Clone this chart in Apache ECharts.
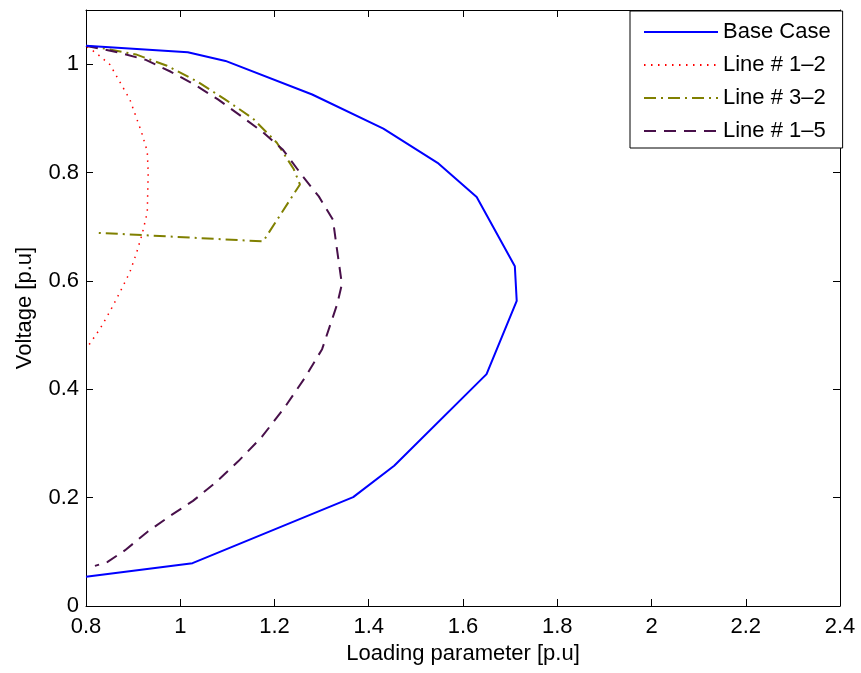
<!DOCTYPE html>
<html>
<head>
<meta charset="utf-8">
<title>PV curves</title>
<script src="https://cdn.jsdelivr.net/npm/echarts@6/dist/echarts.min.js"></script>
<style>
  html, body { margin: 0; padding: 0; background: #fff; }
  #chart { width: 861px; height: 673px; }
</style>
</head>
<body>
<div id="chart"></div>
<script>
// PV (nose) curves: bus voltage versus loading parameter, base case and three line outages
const seriesNames = ['Base Case', 'Line # 1\u20132', 'Line # 3\u20132', 'Line # 1\u20135'];

const baseCase = [
  [0.800, 0.054], [1.026, 0.079], [1.367, 0.201], [1.454, 0.259], [1.650, 0.428],
  [1.714, 0.563], [1.710, 0.627], [1.629, 0.755], [1.546, 0.818], [1.431, 0.881],
  [1.280, 0.944], [1.096, 1.006], [1.016, 1.022], [0.800, 1.034]
];

const line12 = [
  [0.802, 1.032], [0.821, 1.021], [0.851, 0.999], [0.893, 0.935], [0.918, 0.874],
  [0.930, 0.839], [0.932, 0.800], [0.930, 0.726], [0.919, 0.686], [0.907, 0.651],
  [0.893, 0.616], [0.872, 0.579], [0.851, 0.544], [0.830, 0.512], [0.804, 0.479]
];

const line32 = [
  [0.800, 1.034], [0.838, 1.029], [0.906, 1.018], [0.972, 0.997], [1.036, 0.968],
  [1.095, 0.935], [1.154, 0.900], [1.205, 0.855], [1.241, 0.806], [1.254, 0.778],
  [1.176, 0.673], [0.819, 0.689]
];

const line15 = [
  [0.800, 1.034], [0.872, 1.021], [0.927, 1.008], [0.980, 0.986], [1.031, 0.962],
  [1.080, 0.935], [1.131, 0.903], [1.176, 0.874], [1.218, 0.842], [1.260, 0.793],
  [1.294, 0.756], [1.324, 0.713], [1.332, 0.662], [1.343, 0.594], [1.333, 0.557],
  [1.301, 0.474], [1.265, 0.422], [1.222, 0.367], [1.173, 0.312], [1.123, 0.267],
  [1.074, 0.227], [1.027, 0.194], [0.978, 0.166], [0.932, 0.138], [0.883, 0.103],
  [0.845, 0.081], [0.819, 0.074]
];

const xTicks = { min: 0.8, max: 2.4, step: 0.2 };
const yTicks = { min: 0, max: 1.1, step: 0.2 };

const FONT = 'Liberation Sans, Arial, Helvetica, sans-serif';
const FONT_SIZE = 22;
const INK = '#000';

function fmt(v) {
  return String(Math.round(v * 10) / 10);
}

const baseAxis = {
  type: 'value',
  axisLine: { show: true, onZero: false, lineStyle: { color: INK, width: 1 } },
  axisTick: { show: true, inside: true, length: 7, lineStyle: { color: INK } },
  splitLine: { show: false }
};

const chart = echarts.init(document.getElementById('chart'), null, { renderer: 'canvas' });

chart.setOption({
  animation: false,
  backgroundColor: '#fff',
  grid: { left: 86, right: 21, top: 10, bottom: 67, containLabel: false },
  xAxis: [
    Object.assign({}, baseAxis, {
      position: 'bottom',
      min: xTicks.min, max: xTicks.max, interval: xTicks.step,
      name: 'Loading parameter [p.u]',
      nameLocation: 'middle', nameGap: 35,
      nameTextStyle: { fontFamily: FONT, fontSize: FONT_SIZE, color: INK },
      axisLabel: { fontFamily: FONT, fontSize: FONT_SIZE, color: INK, margin: 10, formatter: fmt }
    }),
    Object.assign({}, baseAxis, {
      position: 'top',
      min: xTicks.min, max: xTicks.max, interval: xTicks.step,
      axisLabel: { show: false }
    })
  ],
  yAxis: [
    Object.assign({}, baseAxis, {
      position: 'left',
      min: yTicks.min, max: yTicks.max, interval: yTicks.step,
      name: 'Voltage [p.u]',
      nameLocation: 'middle', nameGap: 50, nameRotate: 90,
      nameTextStyle: { fontFamily: FONT, fontSize: FONT_SIZE, color: INK },
      axisLabel: { fontFamily: FONT, fontSize: FONT_SIZE, color: INK, margin: 7, showMaxLabel: false, formatter: fmt }
    }),
    Object.assign({}, baseAxis, {
      position: 'right',
      min: yTicks.min, max: yTicks.max, interval: yTicks.step,
      axisLabel: { show: false }
    })
  ],
  legend: {
    orient: 'vertical',
    left: 630, top: 11,
    backgroundColor: '#fff',
    borderColor: INK, borderWidth: 1, borderRadius: 0,
    padding: [10, 12, 6, 13],
    itemWidth: 74, itemHeight: 14, itemGap: 11,
    itemStyle: { opacity: 0 },
    textStyle: { fontFamily: FONT, fontSize: FONT_SIZE, lineHeight: 22, color: INK },
    data: seriesNames
  },
  series: [
    {
      name: seriesNames[0], type: 'line', data: baseCase,
      symbol: 'none', smooth: false, z: 4,
      lineStyle: { color: '#0000ff', width: 2, type: 'solid' },
      itemStyle: { color: '#0000ff' }
    },
    {
      name: seriesNames[1], type: 'line', data: line12,
      symbol: 'none', smooth: false, z: 3,
      lineStyle: { color: '#ff0000', width: 1.5, type: [1.5, 5.5], cap: 'butt' },
      itemStyle: { color: '#ff0000' }
    },
    {
      name: seriesNames[2], type: 'line', data: line32,
      symbol: 'none', smooth: false, z: 3,
      lineStyle: { color: '#808000', width: 2, type: [12, 5, 2, 5] },
      itemStyle: { color: '#808000' }
    },
    {
      name: seriesNames[3], type: 'line', data: line15,
      symbol: 'none', smooth: false, z: 3,
      lineStyle: { color: '#48104a', width: 2, type: [12, 8] },
      itemStyle: { color: '#48104a' }
    }
  ]
});
</script>
</body>
</html>
